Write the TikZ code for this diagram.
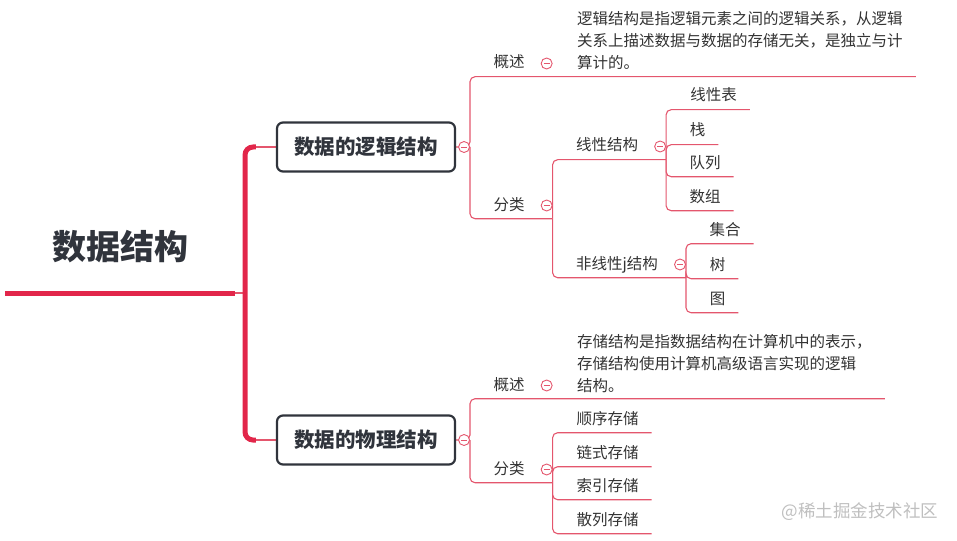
\documentclass[tikz,border=0pt]{standalone}
\usepackage{fontspec}
\setmainfont{Noto Sans CJK SC}
\usetikzlibrary{positioning,backgrounds}
\definecolor{spinered}{HTML}{E2264A}
\definecolor{linkred}{HTML}{E4566D}
\definecolor{ink}{HTML}{333333}
\definecolor{boxink}{HTML}{30343C}

\begin{document}
\begin{tikzpicture}[
    x=1pt, y=-1pt,
    spine/.style={draw=spinered, line width=5pt, rounded corners=8pt},
    link/.style={draw=linkred, line width=1.1pt, rounded corners=5pt},
    rootnode/.style={font=\fontsize{34}{34}\selectfont\bfseries, text=boxink, text height=28pt, text depth=6pt, inner ysep=27pt, minimum width=230pt},
    topbox/.style={draw=boxink, line width=2.2pt, rounded corners=6pt, fill=white, minimum width=178pt, minimum height=49pt, font=\fontsize{20.5}{20.5}\selectfont\bfseries, text=boxink},
    topic/.style={font=\fontsize{15.5}{15.5}\selectfont, text=ink, text height=12pt, text depth=3pt, inner xsep=13pt, inner ysep=5.5pt},
    note/.style={font=\fontsize{15.5}{22}\selectfont, text=ink, align=left, inner xsep=13pt, inner ysep=6pt, anchor=south west},
    fold/.style={circle, draw=linkred, fill=white, line width=0.9pt, minimum size=11pt, inner sep=0pt,
        path picture={\draw[linkred, line width=0.8pt] ([xshift=-3pt]path picture bounding box.center) -- ([xshift=3pt]path picture bounding box.center);}},
    watermark/.style={font=\fontsize{17.5}{17.5}\selectfont, text=gray!50}
]
    \useasboundingbox (0,0) rectangle (957,540);

    % Root
    \node[rootnode, anchor=south] (root) at (120,293) {数据结构};
    \coordinate (hub) at (245,293);

    % Main branches
    \node[topbox] (logic) at (366,147) {数据的逻辑结构};
    \node[topbox] (phys) at (366,440) {数据的物理结构};
    \node[fold, right=2pt of logic] (logicfold) {};
    \node[fold, right=2pt of phys] (physfold) {};

    % Logical structure
    \node[topic] (lgov) at (509,63.5) {概述};
    \node[fold, right=3pt of lgov] (lgovfold) {};
    \node[note] (lgnote) at (564,76) {逻辑结构是指逻辑元素之间的逻辑关系，从逻辑\\关系上描述数据与数据的存储无关，是独立与计\\算计的。};
    \node[topic] (lgcat) at (509,205.5) {分类};
    \node[fold, right=3pt of lgcat] (lgcatfold) {};
    \node[topic] (linear) at (607,146.5) {线性结构};
    \node[fold, right=3pt of linear] (linearfold) {};
    \node[topic] (lin1) at (713.5,96.5) {线性表};
    \node[topic] (lin2) at (697.5,131.5) {栈};
    \node[topic] (lin3) at (705,163.5) {队列};
    \node[topic] (lin4) at (705,197.5) {数组};
    \node[topic] (nonlin) at (617,264.5) {非线性j结构};
    \node[fold, right=3pt of nonlin] (nonlinfold) {};
    \node[topic] (non1) at (725,230.5) {集合};
    \node[topic] (non2) at (717.5,265.5) {树};
    \node[topic] (non3) at (717.5,299.5) {图};

    % Physical structure
    \node[topic] (phov) at (509,385.5) {概述};
    \node[fold, right=3pt of phov] (phovfold) {};
    \node[note] (phnote) at (564,399) {存储结构是指数据结构在计算机中的表示，\\存储结构使用计算机高级语言实现的逻辑\\结构。};
    \node[topic] (phcat) at (509,469.5) {分类};
    \node[fold, right=3pt of phcat] (phcatfold) {};
    \node[topic] (st1) at (607.5,419.5) {顺序存储};
    \node[topic] (st2) at (607.5,453.5) {链式存储};
    \node[topic] (st3) at (607.5,486.5) {索引存储};
    \node[topic] (st4) at (607.5,520.5) {散列存储};

    \node[watermark] (wm) at (860,512) {@稀土掘金技术社区};

    % Connectors
    \begin{scope}[on background layer]
        \draw[spine] (root.south west) -- (root.south east);
        \draw[link] (root.south east) -- (hub);
        \draw[spine] ([xshift=-20pt]logic.west) -| (hub) |- ([xshift=-20pt]phys.west);
        \draw[link] ([xshift=-20pt]logic.west) -- (logic.west);
        \draw[link] ([xshift=-20pt]phys.west) -- (phys.west);

        \draw[link] (logic.east) -- (logicfold.east) |- (lgov.south west) -- (lgov.south east) -- (lgov.south east -| lgnote.east);
        \draw[link] (logicfold.east) |- (lgcat.south west) -- (lgcat.south -| lgcatfold.east);
        \draw[link] (lgcat.south -| lgcatfold.east) |- (linear.south west) -- (linear.south -| linearfold.east);
        \draw[link] (lgcat.south -| lgcatfold.east) |- (nonlin.south west) -- (nonlin.south -| nonlinfold.east);
        \draw[link] (linear.south -| linearfold.east) |- (lin1.south west) -- (lin1.south east);
        \draw[link] (linear.south -| linearfold.east) |- (lin2.south west) -- (lin2.south east);
        \draw[link] (linear.south -| linearfold.east) |- (lin3.south west) -- (lin3.south east);
        \draw[link] (linear.south -| linearfold.east) |- (lin4.south west) -- (lin4.south east);
        \draw[link] (nonlin.south -| nonlinfold.east) |- (non1.south west) -- (non1.south east);
        \draw[link] (nonlin.south -| nonlinfold.east) |- (non2.south west) -- (non2.south east);
        \draw[link] (nonlin.south -| nonlinfold.east) |- (non3.south west) -- (non3.south east);

        \draw[link] (phys.east) -- (physfold.east) |- (phov.south west) -- (phov.south east) -- (phov.south east -| phnote.east);
        \draw[link] (physfold.east) |- (phcat.south west) -- (phcat.south -| phcatfold.east);
        \draw[link] (phcat.south -| phcatfold.east) |- (st1.south west) -- (st1.south east);
        \draw[link] (phcat.south -| phcatfold.east) |- (st2.south west) -- (st2.south east);
        \draw[link] (phcat.south -| phcatfold.east) |- (st3.south west) -- (st3.south east);
        \draw[link] (phcat.south -| phcatfold.east) |- (st4.south west) -- (st4.south east);
    \end{scope}
\end{tikzpicture}
\end{document}
